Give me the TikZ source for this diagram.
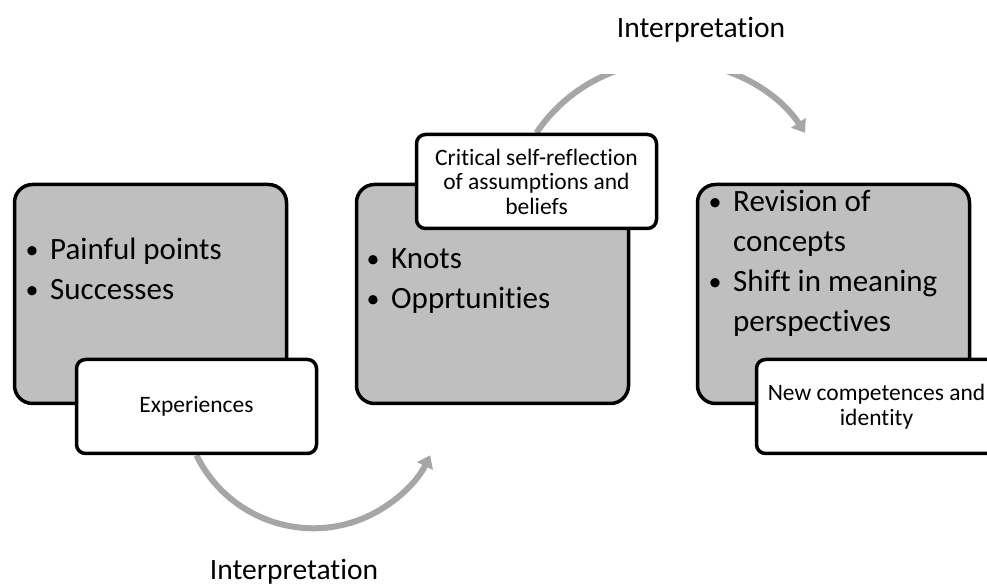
\documentclass[tikz,border=0pt]{standalone}
\usepackage{fontspec}
\setmainfont{Carlito}[Ligatures=CommonOff]
\usepackage{tikz}
\usetikzlibrary{arrows.meta,backgrounds}
\tikzset{
  stage/.style={draw, line width=3.5pt, fill=gray!50, rounded corners=18pt,
    minimum width=272pt, minimum height=219pt},
  tag/.style={draw, line width=3.5pt, fill=white, rounded corners=9pt,
    minimum width=240pt, minimum height=94pt, align=center,
    font=\fontsize{23.5}{24.5}\selectfont},
  points/.style={anchor=base west, inner sep=0pt,
    font=\fontsize{31}{40}\selectfont},
  interp/.style={font=\fontsize{29.5}{34}\selectfont},
  turn/.style={line width=6pt, draw=gray!70,
    -{Triangle[width=17pt,length=12pt,fill=gray!70]}}
}
% small bullet, centred on the node's left edge
\newcommand{\pbul}{\makebox[0pt][c]{\raisebox{1.5pt}{\fontsize{26}{26}\selectfont\textbullet}}\hspace{18pt}}

\begin{document}
\begin{tikzpicture}[x=1pt,y=1pt]
    \useasboundingbox (0,0) rectangle (987,588);

    % Gray stage boxes
    \node[stage] (b1) at (150.5,294) {};
    \node[stage] (b2) at (492.5,294) {};
    \node[stage] (b3) at (833.5,294) {};

    % Bullet points
    \node[points] (p1) at (32,328) {\begin{tabular}[t]{@{}l@{}}
        \pbul Painful points\\
        \pbul Successes
    \end{tabular}};
    \node[points] (p2) at (373,319) {\begin{tabular}[t]{@{}l@{}}
        \pbul Knots\\
        \pbul Opprtunities
    \end{tabular}};
    \node[points] (p3) at (715,376) {\begin{tabular}[t]{@{}l@{}}
        \pbul Revision of\\
        \hspace{18pt}concepts\\
        \pbul Shift in meaning\\
        \hspace{18pt}perspectives
    \end{tabular}};

    % White tags
    \node[tag] (e1) at (196.5,181.5) {Experiences};
    \node[tag] (e2) at (536.5,406.5) {Critical self-reflection\\of assumptions and\\beliefs};
    \node[tag] (e3) at (876.5,181.5) {New competences and\\identity};

    % Interpretation labels
    \node[interp] (i1) at (294,16) {Interpretation};
    \node[interp] (i2) at (701,558) {Interpretation};

    % Arcs, behind the boxes
    \begin{scope}[on background layer]
        \draw[turn] (e1.south) arc[start angle=206, end angle=334, radius=130pt];
        \clip (0,0) rectangle (987,513);
        \draw[turn] (e2.north) arc[start angle=146, end angle=34, radius=162pt];
    \end{scope}
\end{tikzpicture}
\end{document}
